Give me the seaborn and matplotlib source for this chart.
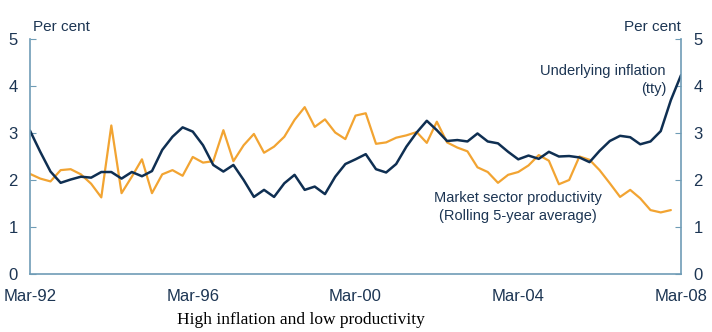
import numpy as np
import pandas as pd
import matplotlib
matplotlib.use("Agg")
import matplotlib.pyplot as plt
import seaborn as sns

start_quarter = "1992-03-01"
n_quarters = 65

inflation = [3.05, 2.60, 2.18, 1.94, 2.01, 2.07, 2.05, 2.17, 2.17, 2.03,
             2.17, 2.08, 2.19, 2.64, 2.92, 3.12, 3.03, 2.74, 2.32, 2.18,
             2.32, 2.00, 1.64, 1.79, 1.64, 1.93, 2.11, 1.79, 1.86, 1.70,
             2.07, 2.34, 2.44, 2.55, 2.23, 2.16, 2.34, 2.71, 3.01, 3.26,
             3.06, 2.83, 2.85, 2.82, 2.99, 2.82, 2.78, 2.60, 2.44, 2.52,
             2.45, 2.60, 2.50, 2.51, 2.48, 2.38, 2.62, 2.83, 2.94, 2.91,
             2.76, 2.82, 3.04, 3.70, 4.23]

productivity = [2.13, 2.03, 1.97, 2.21, 2.23, 2.12, 1.92, 1.63, 3.16, 1.72,
                2.07, 2.44, 1.72, 2.12, 2.21, 2.09, 2.49, 2.37, 2.40, 3.06,
                2.40, 2.74, 2.98, 2.58, 2.71, 2.92, 3.28, 3.55, 3.13, 3.29,
                3.01, 2.87, 3.37, 3.42, 2.77, 2.80, 2.90, 2.95, 3.02, 2.79,
                3.24, 2.80, 2.69, 2.61, 2.27, 2.17, 1.94, 2.11, 2.17, 2.31,
                2.53, 2.41, 1.91, 2.00, 2.50, 2.43, 2.21, 1.93, 1.64, 1.79,
                1.61, 1.36, 1.31, 1.36, np.nan]

tick_dates = ["1992-03-01", "1996-03-01", "2000-03-01", "2004-03-01", "2008-03-01"]
tick_labels = ["Mar-92", "Mar-96", "Mar-00", "Mar-04", "Mar-08"]
y_ticks = [0, 1, 2, 3, 4, 5]

dates = pd.date_range(start_quarter, periods=n_quarters, freq="3MS")
df = pd.DataFrame({"date": dates, "inflation": inflation, "productivity": productivity})

sns.set_style("white")
plt.rcParams["font.family"] = ["Liberation Sans", "DejaVu Sans"]

NAVY = "#0f2f52"
ORANGE = "#f2a432"
SPINE = "#6f9cb6"
TEXT = "#1c3553"

fig = plt.figure(figsize=(7.12, 3.32), dpi=100)
ax = fig.add_axes([30 / 712, 1 - 274 / 332, (681 - 30) / 712, (274 - 39) / 332])

sns.lineplot(data=df, x="date", y="productivity", ax=ax, color=ORANGE, lw=1.6)
sns.lineplot(data=df, x="date", y="inflation", ax=ax, color=NAVY, lw=1.8)

ax.set_xlim(pd.Timestamp(tick_dates[0]), pd.Timestamp(tick_dates[-1]))
ax.set_ylim(0, 5)
ax.set_xlabel("")
ax.set_ylabel("")

ax.set_xticks([pd.Timestamp(d) for d in tick_dates])
ax.set_xticklabels(tick_labels)
ax.set_yticks(y_ticks)
ax.set_yticklabels([str(v) for v in y_ticks])

ax.tick_params(axis="x", direction="in", length=4, color=SPINE, pad=11,
               labelsize=12, labelcolor=TEXT)
ax.tick_params(axis="y", direction="in", length=4, color=SPINE, pad=9,
               labelsize=12, labelcolor=TEXT, left=True, right=True,
               labelleft=True, labelright=True)

for side in ["left", "right", "bottom"]:
    ax.spines[side].set_visible(True)
    ax.spines[side].set_color(SPINE)
    ax.spines[side].set_linewidth(1.2)
ax.spines["top"].set_visible(False)

ax.grid(False)

fig.text(33 / 712, 1 - 27 / 332, "Per cent", ha="left", va="center",
         fontsize=11, color=TEXT)
fig.text(681 / 712, 1 - 27 / 332, "Per cent", ha="right", va="center",
         fontsize=11, color=TEXT)

fig.text(666 / 712, 1 - 80 / 332, "Underlying inflation\n(tty)", ha="right",
         va="center", fontsize=10.5, color=TEXT, linespacing=1.45)
fig.text(518 / 712, 1 - 207 / 332, "Market sector productivity\n(Rolling 5-year average)",
         ha="center", va="center", fontsize=10.5, color=TEXT, linespacing=1.45)

fig.text(301 / 712, 1 - 320 / 332, "High inflation and low productivity",
         ha="center", va="center", fontsize=12.5, color="black",
         family=["Liberation Serif", "DejaVu Serif"])

fig.savefig("out.png", dpi=100)
